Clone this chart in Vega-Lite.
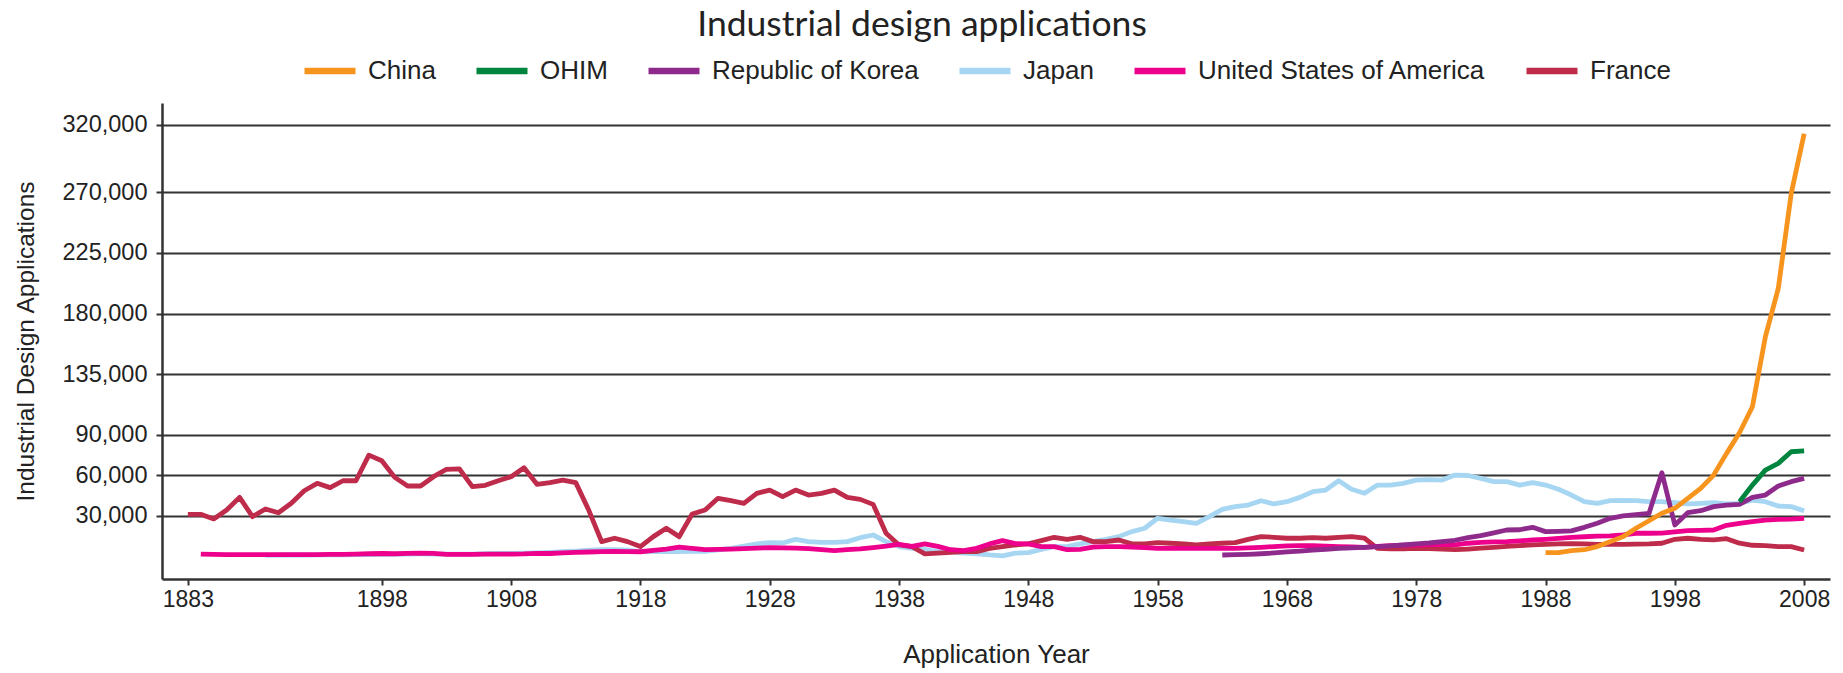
{
  "$schema": "https://vega.github.io/schema/vega-lite/v6.json",
  "autosize": {"type": "none"},
  "width": 1668,
  "height": 476,
  "padding": {"left": 162, "top": 103, "right": 13, "bottom": 94},
  "background": "white",
  "config": {"view": {"stroke": null}},
  "title": {"text": "Industrial design applications", "anchor": "middle", "frame": "group", "dx": -74, "dy": 11, "offset": 10, "font": "Lato", "fontSize": 35.5, "fontWeight": 400, "color": "#222222"},
  "datasets": {
    "d": [
      {"country":"Japan","year":1889,"value":800},{"country":"Japan","year":1890,"value":1000},{"country":"Japan","year":1891,"value":1100},{"country":"Japan","year":1892,"value":1100},{"country":"Japan","year":1893,"value":1200},{"country":"Japan","year":1894,"value":1200},{"country":"Japan","year":1895,"value":1200},{"country":"Japan","year":1896,"value":1300},{"country":"Japan","year":1897,"value":1400},{"country":"Japan","year":1898,"value":1500},{"country":"Japan","year":1899,"value":1600},{"country":"Japan","year":1900,"value":1800},{"country":"Japan","year":1901,"value":1900},{"country":"Japan","year":1902,"value":1800},{"country":"Japan","year":1903,"value":1800},{"country":"Japan","year":1904,"value":1700},{"country":"Japan","year":1905,"value":1800},{"country":"Japan","year":1906,"value":2000},{"country":"Japan","year":1907,"value":2200},{"country":"Japan","year":1908,"value":2300},{"country":"Japan","year":1909,"value":2400},{"country":"Japan","year":1910,"value":2600},{"country":"Japan","year":1911,"value":3000},{"country":"Japan","year":1912,"value":3600},{"country":"Japan","year":1913,"value":4000},{"country":"Japan","year":1914,"value":4600},{"country":"Japan","year":1915,"value":5000},{"country":"Japan","year":1916,"value":5000},{"country":"Japan","year":1917,"value":4600},{"country":"Japan","year":1918,"value":3600},{"country":"Japan","year":1919,"value":3600},{"country":"Japan","year":1920,"value":3600},{"country":"Japan","year":1921,"value":3600},{"country":"Japan","year":1922,"value":3800},{"country":"Japan","year":1923,"value":3800},{"country":"Japan","year":1924,"value":4800},{"country":"Japan","year":1925,"value":6000},{"country":"Japan","year":1926,"value":7600},{"country":"Japan","year":1927,"value":9300},{"country":"Japan","year":1928,"value":10200},{"country":"Japan","year":1929,"value":10000},{"country":"Japan","year":1930,"value":12700},{"country":"Japan","year":1931,"value":11000},{"country":"Japan","year":1932,"value":10500},{"country":"Japan","year":1933,"value":10500},{"country":"Japan","year":1934,"value":11000},{"country":"Japan","year":1935,"value":13900},{"country":"Japan","year":1936,"value":15900},{"country":"Japan","year":1937,"value":11000},{"country":"Japan","year":1938,"value":7300},{"country":"Japan","year":1939,"value":6000},{"country":"Japan","year":1940,"value":5300},{"country":"Japan","year":1941,"value":3600},{"country":"Japan","year":1942,"value":3600},{"country":"Japan","year":1943,"value":2400},{"country":"Japan","year":1944,"value":2000},{"country":"Japan","year":1945,"value":1100},{"country":"Japan","year":1946,"value":500},{"country":"Japan","year":1947,"value":2400},{"country":"Japan","year":1948,"value":2900},{"country":"Japan","year":1949,"value":5300},{"country":"Japan","year":1950,"value":7300},{"country":"Japan","year":1951,"value":7300},{"country":"Japan","year":1952,"value":9300},{"country":"Japan","year":1953,"value":11000},{"country":"Japan","year":1954,"value":12700},{"country":"Japan","year":1955,"value":14700},{"country":"Japan","year":1956,"value":18400},{"country":"Japan","year":1957,"value":20900},{"country":"Japan","year":1958,"value":28300},{"country":"Japan","year":1959,"value":27000},{"country":"Japan","year":1960,"value":25800},{"country":"Japan","year":1961,"value":24600},{"country":"Japan","year":1962,"value":29500},{"country":"Japan","year":1963,"value":34900},{"country":"Japan","year":1964,"value":36900},{"country":"Japan","year":1965,"value":38100},{"country":"Japan","year":1966,"value":41300},{"country":"Japan","year":1967,"value":38900},{"country":"Japan","year":1968,"value":40600},{"country":"Japan","year":1969,"value":43800},{"country":"Japan","year":1970,"value":48000},{"country":"Japan","year":1971,"value":49200},{"country":"Japan","year":1972,"value":56100},{"country":"Japan","year":1973,"value":49800},{"country":"Japan","year":1974,"value":46800},{"country":"Japan","year":1975,"value":52900},{"country":"Japan","year":1976,"value":52900},{"country":"Japan","year":1977,"value":54200},{"country":"Japan","year":1978,"value":56600},{"country":"Japan","year":1979,"value":57000},{"country":"Japan","year":1980,"value":56600},{"country":"Japan","year":1981,"value":60300},{"country":"Japan","year":1982,"value":60000},{"country":"Japan","year":1983,"value":57900},{"country":"Japan","year":1984,"value":55400},{"country":"Japan","year":1985,"value":55400},{"country":"Japan","year":1986,"value":52900},{"country":"Japan","year":1987,"value":54700},{"country":"Japan","year":1988,"value":52900},{"country":"Japan","year":1989,"value":49800},{"country":"Japan","year":1990,"value":45500},{"country":"Japan","year":1991,"value":40600},{"country":"Japan","year":1992,"value":39400},{"country":"Japan","year":1993,"value":41300},{"country":"Japan","year":1994,"value":41500},{"country":"Japan","year":1995,"value":41300},{"country":"Japan","year":1996,"value":40600},{"country":"Japan","year":1997,"value":40600},{"country":"Japan","year":1998,"value":39800},{"country":"Japan","year":1999,"value":38900},{"country":"Japan","year":2000,"value":39400},{"country":"Japan","year":2001,"value":39800},{"country":"Japan","year":2002,"value":38900},{"country":"Japan","year":2003,"value":39400},{"country":"Japan","year":2004,"value":41800},{"country":"Japan","year":2005,"value":40600},{"country":"Japan","year":2006,"value":37400},{"country":"Japan","year":2007,"value":36900},{"country":"Japan","year":2008,"value":33900},

      {"country":"France","year":1883,"value":31200},{"country":"France","year":1884,"value":31200},{"country":"France","year":1885,"value":27800},{"country":"France","year":1886,"value":34400},{"country":"France","year":1887,"value":43800},{"country":"France","year":1888,"value":29500},{"country":"France","year":1889,"value":35200},{"country":"France","year":1890,"value":32400},{"country":"France","year":1891,"value":39400},{"country":"France","year":1892,"value":48700},{"country":"France","year":1893,"value":54200},{"country":"France","year":1894,"value":51000},{"country":"France","year":1895,"value":56100},{"country":"France","year":1896,"value":56100},{"country":"France","year":1897,"value":75100},{"country":"France","year":1898,"value":70900},{"country":"France","year":1899,"value":58600},{"country":"France","year":1900,"value":52200},{"country":"France","year":1901,"value":52200},{"country":"France","year":1902,"value":59100},{"country":"France","year":1903,"value":64600},{"country":"France","year":1904,"value":64900},{"country":"France","year":1905,"value":51700},{"country":"France","year":1906,"value":52700},{"country":"France","year":1907,"value":56100},{"country":"France","year":1908,"value":59100},{"country":"France","year":1909,"value":65800},{"country":"France","year":1910,"value":53500},{"country":"France","year":1911,"value":54700},{"country":"France","year":1912,"value":56600},{"country":"France","year":1913,"value":54700},{"country":"France","year":1914,"value":34400},{"country":"France","year":1915,"value":11000},{"country":"France","year":1916,"value":13500},{"country":"France","year":1917,"value":11000},{"country":"France","year":1918,"value":7300},{"country":"France","year":1919,"value":14700},{"country":"France","year":1920,"value":20900},{"country":"France","year":1921,"value":14700},{"country":"France","year":1922,"value":31500},{"country":"France","year":1923,"value":34400},{"country":"France","year":1924,"value":43100},{"country":"France","year":1925,"value":41300},{"country":"France","year":1926,"value":39400},{"country":"France","year":1927,"value":46800},{"country":"France","year":1928,"value":49200},{"country":"France","year":1929,"value":44300},{"country":"France","year":1930,"value":49200},{"country":"France","year":1931,"value":45500},{"country":"France","year":1932,"value":46800},{"country":"France","year":1933,"value":49200},{"country":"France","year":1934,"value":43800},{"country":"France","year":1935,"value":42300},{"country":"France","year":1936,"value":38600},{"country":"France","year":1937,"value":17200},{"country":"France","year":1938,"value":8500},{"country":"France","year":1939,"value":7300},{"country":"France","year":1940,"value":1900},{"country":"France","year":1941,"value":2400},{"country":"France","year":1942,"value":3100},{"country":"France","year":1943,"value":3600},{"country":"France","year":1944,"value":3600},{"country":"France","year":1945,"value":6000},{"country":"France","year":1946,"value":7300},{"country":"France","year":1947,"value":8500},{"country":"France","year":1948,"value":9300},{"country":"France","year":1949,"value":11700},{"country":"France","year":1950,"value":14200},{"country":"France","year":1951,"value":12700},{"country":"France","year":1952,"value":14200},{"country":"France","year":1953,"value":11000},{"country":"France","year":1954,"value":11000},{"country":"France","year":1955,"value":12200},{"country":"France","year":1956,"value":9300},{"country":"France","year":1957,"value":9300},{"country":"France","year":1958,"value":10200},{"country":"France","year":1959,"value":9800},{"country":"France","year":1960,"value":9300},{"country":"France","year":1961,"value":8500},{"country":"France","year":1962,"value":9300},{"country":"France","year":1963,"value":9800},{"country":"France","year":1964,"value":10200},{"country":"France","year":1965,"value":12700},{"country":"France","year":1966,"value":14700},{"country":"France","year":1967,"value":14200},{"country":"France","year":1968,"value":13500},{"country":"France","year":1969,"value":13500},{"country":"France","year":1970,"value":14000},{"country":"France","year":1971,"value":13500},{"country":"France","year":1972,"value":14200},{"country":"France","year":1973,"value":14700},{"country":"France","year":1974,"value":13500},{"country":"France","year":1975,"value":6000},{"country":"France","year":1976,"value":5700},{"country":"France","year":1977,"value":5600},{"country":"France","year":1978,"value":6000},{"country":"France","year":1979,"value":5800},{"country":"France","year":1980,"value":5500},{"country":"France","year":1981,"value":5000},{"country":"France","year":1982,"value":5500},{"country":"France","year":1983,"value":6200},{"country":"France","year":1984,"value":6800},{"country":"France","year":1985,"value":7400},{"country":"France","year":1986,"value":8000},{"country":"France","year":1987,"value":8600},{"country":"France","year":1988,"value":9000},{"country":"France","year":1989,"value":9300},{"country":"France","year":1990,"value":9500},{"country":"France","year":1991,"value":9300},{"country":"France","year":1992,"value":9000},{"country":"France","year":1993,"value":9000},{"country":"France","year":1994,"value":9000},{"country":"France","year":1995,"value":9200},{"country":"France","year":1996,"value":9300},{"country":"France","year":1997,"value":9800},{"country":"France","year":1998,"value":12700},{"country":"France","year":1999,"value":13500},{"country":"France","year":2000,"value":12700},{"country":"France","year":2001,"value":12300},{"country":"France","year":2002,"value":13200},{"country":"France","year":2003,"value":9800},{"country":"France","year":2004,"value":8300},{"country":"France","year":2005,"value":8100},{"country":"France","year":2006,"value":7300},{"country":"France","year":2007,"value":7300},{"country":"France","year":2008,"value":4800},

      {"country":"United States of America","year":1884,"value":1800},{"country":"United States of America","year":1885,"value":1500},{"country":"United States of America","year":1886,"value":1400},{"country":"United States of America","year":1887,"value":1400},{"country":"United States of America","year":1888,"value":1400},{"country":"United States of America","year":1889,"value":1400},{"country":"United States of America","year":1890,"value":1300},{"country":"United States of America","year":1891,"value":1300},{"country":"United States of America","year":1892,"value":1400},{"country":"United States of America","year":1893,"value":1400},{"country":"United States of America","year":1894,"value":1600},{"country":"United States of America","year":1895,"value":1600},{"country":"United States of America","year":1896,"value":1800},{"country":"United States of America","year":1897,"value":2000},{"country":"United States of America","year":1898,"value":2200},{"country":"United States of America","year":1899,"value":2000},{"country":"United States of America","year":1900,"value":2300},{"country":"United States of America","year":1901,"value":2500},{"country":"United States of America","year":1902,"value":2300},{"country":"United States of America","year":1903,"value":1600},{"country":"United States of America","year":1904,"value":1600},{"country":"United States of America","year":1905,"value":1600},{"country":"United States of America","year":1906,"value":1700},{"country":"United States of America","year":1907,"value":1700},{"country":"United States of America","year":1908,"value":1800},{"country":"United States of America","year":1909,"value":1900},{"country":"United States of America","year":1910,"value":2300},{"country":"United States of America","year":1911,"value":2200},{"country":"United States of America","year":1912,"value":2600},{"country":"United States of America","year":1913,"value":3000},{"country":"United States of America","year":1914,"value":3300},{"country":"United States of America","year":1915,"value":3600},{"country":"United States of America","year":1916,"value":3800},{"country":"United States of America","year":1917,"value":3600},{"country":"United States of America","year":1918,"value":3500},{"country":"United States of America","year":1919,"value":4500},{"country":"United States of America","year":1920,"value":5500},{"country":"United States of America","year":1921,"value":7000},{"country":"United States of America","year":1922,"value":6000},{"country":"United States of America","year":1923,"value":5000},{"country":"United States of America","year":1924,"value":5200},{"country":"United States of America","year":1925,"value":5400},{"country":"United States of America","year":1926,"value":5800},{"country":"United States of America","year":1927,"value":6200},{"country":"United States of America","year":1928,"value":6600},{"country":"United States of America","year":1929,"value":6400},{"country":"United States of America","year":1930,"value":6200},{"country":"United States of America","year":1931,"value":5800},{"country":"United States of America","year":1932,"value":5000},{"country":"United States of America","year":1933,"value":4400},{"country":"United States of America","year":1934,"value":5000},{"country":"United States of America","year":1935,"value":5600},{"country":"United States of America","year":1936,"value":6500},{"country":"United States of America","year":1937,"value":7600},{"country":"United States of America","year":1938,"value":9000},{"country":"United States of America","year":1939,"value":7500},{"country":"United States of America","year":1940,"value":9300},{"country":"United States of America","year":1941,"value":7500},{"country":"United States of America","year":1942,"value":5000},{"country":"United States of America","year":1943,"value":4300},{"country":"United States of America","year":1944,"value":6000},{"country":"United States of America","year":1945,"value":9300},{"country":"United States of America","year":1946,"value":11700},{"country":"United States of America","year":1947,"value":9500},{"country":"United States of America","year":1948,"value":9300},{"country":"United States of America","year":1949,"value":7300},{"country":"United States of America","year":1950,"value":7300},{"country":"United States of America","year":1951,"value":5000},{"country":"United States of America","year":1952,"value":5300},{"country":"United States of America","year":1953,"value":7000},{"country":"United States of America","year":1954,"value":7300},{"country":"United States of America","year":1955,"value":7300},{"country":"United States of America","year":1956,"value":7000},{"country":"United States of America","year":1957,"value":6500},{"country":"United States of America","year":1958,"value":6000},{"country":"United States of America","year":1959,"value":6000},{"country":"United States of America","year":1960,"value":6000},{"country":"United States of America","year":1961,"value":6000},{"country":"United States of America","year":1962,"value":6000},{"country":"United States of America","year":1963,"value":6000},{"country":"United States of America","year":1964,"value":6000},{"country":"United States of America","year":1965,"value":6300},{"country":"United States of America","year":1966,"value":6800},{"country":"United States of America","year":1967,"value":7300},{"country":"United States of America","year":1968,"value":7800},{"country":"United States of America","year":1969,"value":8000},{"country":"United States of America","year":1970,"value":8000},{"country":"United States of America","year":1971,"value":7600},{"country":"United States of America","year":1972,"value":7200},{"country":"United States of America","year":1973,"value":7000},{"country":"United States of America","year":1974,"value":6800},{"country":"United States of America","year":1975,"value":7400},{"country":"United States of America","year":1976,"value":8000},{"country":"United States of America","year":1977,"value":8300},{"country":"United States of America","year":1978,"value":8500},{"country":"United States of America","year":1979,"value":8700},{"country":"United States of America","year":1980,"value":9000},{"country":"United States of America","year":1981,"value":8600},{"country":"United States of America","year":1982,"value":9800},{"country":"United States of America","year":1983,"value":10500},{"country":"United States of America","year":1984,"value":10800},{"country":"United States of America","year":1985,"value":11000},{"country":"United States of America","year":1986,"value":11600},{"country":"United States of America","year":1987,"value":12200},{"country":"United States of America","year":1988,"value":12700},{"country":"United States of America","year":1989,"value":13400},{"country":"United States of America","year":1990,"value":14200},{"country":"United States of America","year":1991,"value":14600},{"country":"United States of America","year":1992,"value":15000},{"country":"United States of America","year":1993,"value":15200},{"country":"United States of America","year":1994,"value":16000},{"country":"United States of America","year":1995,"value":17200},{"country":"United States of America","year":1996,"value":17200},{"country":"United States of America","year":1997,"value":17300},{"country":"United States of America","year":1998,"value":18300},{"country":"United States of America","year":1999,"value":19100},{"country":"United States of America","year":2000,"value":19300},{"country":"United States of America","year":2001,"value":19600},{"country":"United States of America","year":2002,"value":23100},{"country":"United States of America","year":2003,"value":24600},{"country":"United States of America","year":2004,"value":25800},{"country":"United States of America","year":2005,"value":27000},{"country":"United States of America","year":2006,"value":27500},{"country":"United States of America","year":2007,"value":27600},{"country":"United States of America","year":2008,"value":28300},

      {"country":"Republic of Korea","year":1963,"value":1100},{"country":"Republic of Korea","year":1964,"value":1300},{"country":"Republic of Korea","year":1965,"value":1600},{"country":"Republic of Korea","year":1966,"value":2000},{"country":"Republic of Korea","year":1967,"value":2600},{"country":"Republic of Korea","year":1968,"value":3400},{"country":"Republic of Korea","year":1969,"value":4000},{"country":"Republic of Korea","year":1970,"value":4800},{"country":"Republic of Korea","year":1971,"value":5300},{"country":"Republic of Korea","year":1972,"value":6000},{"country":"Republic of Korea","year":1973,"value":6400},{"country":"Republic of Korea","year":1974,"value":6800},{"country":"Republic of Korea","year":1975,"value":7300},{"country":"Republic of Korea","year":1976,"value":7800},{"country":"Republic of Korea","year":1977,"value":8500},{"country":"Republic of Korea","year":1978,"value":9300},{"country":"Republic of Korea","year":1979,"value":10000},{"country":"Republic of Korea","year":1980,"value":11000},{"country":"Republic of Korea","year":1981,"value":12000},{"country":"Republic of Korea","year":1982,"value":14000},{"country":"Republic of Korea","year":1983,"value":15500},{"country":"Republic of Korea","year":1984,"value":17500},{"country":"Republic of Korea","year":1985,"value":19600},{"country":"Republic of Korea","year":1986,"value":19800},{"country":"Republic of Korea","year":1987,"value":21600},{"country":"Republic of Korea","year":1988,"value":18400},{"country":"Republic of Korea","year":1989,"value":18600},{"country":"Republic of Korea","year":1990,"value":19000},{"country":"Republic of Korea","year":1991,"value":21600},{"country":"Republic of Korea","year":1992,"value":24600},{"country":"Republic of Korea","year":1993,"value":28300},{"country":"Republic of Korea","year":1994,"value":30000},{"country":"Republic of Korea","year":1995,"value":31000},{"country":"Republic of Korea","year":1996,"value":31900},{"country":"Republic of Korea","year":1997,"value":62000},{"country":"Republic of Korea","year":1998,"value":23300},{"country":"Republic of Korea","year":1999,"value":32400},{"country":"Republic of Korea","year":2000,"value":33900},{"country":"Republic of Korea","year":2001,"value":36900},{"country":"Republic of Korea","year":2002,"value":38100},{"country":"Republic of Korea","year":2003,"value":38600},{"country":"Republic of Korea","year":2004,"value":43800},{"country":"Republic of Korea","year":2005,"value":45500},{"country":"Republic of Korea","year":2006,"value":52200},{"country":"Republic of Korea","year":2007,"value":55400},{"country":"Republic of Korea","year":2008,"value":57900},

      {"country":"OHIM","year":2003,"value":40600},{"country":"OHIM","year":2004,"value":52900},{"country":"OHIM","year":2005,"value":64000},{"country":"OHIM","year":2006,"value":69000},{"country":"OHIM","year":2007,"value":77600},{"country":"OHIM","year":2008,"value":78300},

      {"country":"China","year":1988,"value":2800},{"country":"China","year":1989,"value":2800},{"country":"China","year":1990,"value":4300},{"country":"China","year":1991,"value":5000},{"country":"China","year":1992,"value":7300},{"country":"China","year":1993,"value":11000},{"country":"China","year":1994,"value":14700},{"country":"China","year":1995,"value":20900},{"country":"China","year":1996,"value":26500},{"country":"China","year":1997,"value":32000},{"country":"China","year":1998,"value":35700},{"country":"China","year":1999,"value":43100},{"country":"China","year":2000,"value":50500},{"country":"China","year":2001,"value":60300},{"country":"China","year":2002,"value":76400},{"country":"China","year":2003,"value":91700},{"country":"China","year":2004,"value":110900},{"country":"China","year":2005,"value":162700},{"country":"China","year":2006,"value":198600},{"country":"China","year":2007,"value":268900},{"country":"China","year":2008,"value":313300}
    ]
  },
  "data": {"name": "d"},
  "mark": {"type": "line", "strokeWidth": 4.8, "strokeJoin": "round"},
  "encoding": {
    "x": {
      "field": "year", "type": "quantitative",
      "scale": {"domain": [1881, 2010], "nice": false, "zero": false},
      "axis": {
        "values": [1883, 1898, 1908, 1918, 1928, 1938, 1948, 1958, 1968, 1978, 1988, 1998, 2008],
        "format": "d", "grid": false,
        "labelFont": "Liberation Sans", "labelFontSize": 23, "labelColor": "#222222", "labelPadding": 3, "labelFlush": false,
        "tickSize": 6, "tickWidth": 2, "tickColor": "#333333",
        "domainColor": "#333333", "domainWidth": 2.5,
        "title": "Application Year", "titleFont": "Liberation Sans", "titleFontSize": 26, "titleFontWeight": "normal", "titleColor": "#222222", "titlePadding": 30
      }
    },
    "y": {
      "field": "value", "type": "quantitative",
      "scale": {"domain": [-16700, 336000], "nice": false, "zero": false},
      "axis": {
        "values": [30000, 60000, 90000, 135000, 180000, 225000, 270000, 320000],
        "format": ",.0f", "grid": true, "gridColor": "#333333", "gridWidth": 2, "gridOpacity": 1,
        "labelFont": "Liberation Sans", "labelFontSize": 23.5, "labelColor": "#222222", "labelPadding": 9,
        "tickSize": 6, "tickWidth": 2, "tickColor": "#333333",
        "domainColor": "#333333", "domainWidth": 2.5,
        "title": "Industrial Design Applications", "titleFont": "Liberation Sans", "titleFontSize": 24.5, "titleFontWeight": "normal", "titleColor": "#222222", "titlePadding": 24
      }
    },
    "color": {
      "field": "country", "type": "nominal",
      "scale": {
        "domain": ["China", "OHIM", "Republic of Korea", "Japan", "United States of America", "France"],
        "range": ["#F7941D", "#00853E", "#8E2A8C", "#A6D6F2", "#EC008C", "#BF2B4A"]
      },
      "legend": {
        "title": null, "orient": "none", "legendX": 139, "legendY": -61, "direction": "horizontal",
        "symbolType": "stroke", "symbolStrokeWidth": 6.5, "symbolSize": 2600,
        "labelFont": "Liberation Sans", "labelFontSize": 26, "labelColor": "#222222", "labelOffset": 9, "labelLimit": 0,
        "columnPadding": 27, "padding": 0
      }
    }
  }
}
